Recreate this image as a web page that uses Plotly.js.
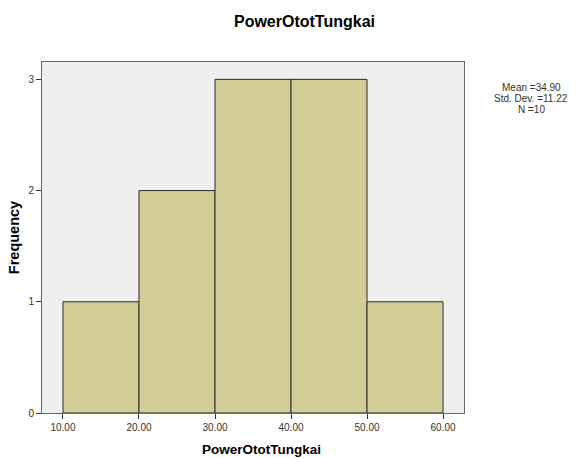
<!DOCTYPE html>
<html>
<head>
<meta charset="utf-8">
<script src="https://cdn.plot.ly/plotly-3.0.1.min.js"></script>
<style>html,body{margin:0;padding:0;background:#fff;}#chart{width:580px;height:458px;}</style>
</head>
<body>
<div id="chart"></div>
<script>
const binStarts = [10, 20, 30, 40, 50];
const binWidth = 10;
const counts = [1, 2, 3, 3, 1];
const xTicks = [10, 20, 30, 40, 50, 60];
const xTickLabels = ["10.00", "20.00", "30.00", "40.00", "50.00", "60.00"];
const yTicks = [0, 1, 2, 3];
const chartTitle = "PowerOtotTungkai";
const xTitle = "PowerOtotTungkai";
const yTitle = "Frequency";
const statsLines = ["Mean =34.90", "Std. Dev. =11.22", "N =10"];

const F = "Liberation Sans, Arial, sans-serif";
const trace = {
  type: "bar",
  x: binStarts.map(s => s + binWidth / 2),
  y: counts,
  width: binStarts.map(() => binWidth),
  marker: {color: "#d3ce97", line: {color: "#2a2a2a", width: 1}},
  hoverinfo: "skip"
};
const annotations = statsLines.map((t, i) => ({
  text: t, xref: "paper", yref: "paper", x: 1.159, y: 0.926 - i * 0.03,
  xanchor: "center", yanchor: "middle", showarrow: false,
  font: {family: F, size: 10, color: "#333"}
}));
annotations.push({
  text: "<b>" + xTitle + "</b>", xref: "paper", yref: "paper", x: 0.519, y: -0.105,
  xanchor: "center", yanchor: "middle", showarrow: false,
  font: {family: F, size: 13.5, color: "#000"}
});
const layout = {
  width: 580, height: 458,
  margin: {l: 42, r: 116, t: 62, b: 45},
  paper_bgcolor: "#ffffff",
  plot_bgcolor: "#efefef",
  showlegend: false,
  title: {text: "<b>" + chartTitle + "</b>", x: 0.525, xanchor: "center", y: 0.954, yanchor: "middle",
          font: {family: F, size: 16, color: "#000"}},
  xaxis: {range: [7.24, 62.76], tickvals: xTicks, ticktext: xTickLabels,
          ticks: "outside", ticklen: 5, tickcolor: "#333", showgrid: false, zeroline: false,
          showline: true, linecolor: "#666", linewidth: 1, mirror: true,
          tickfont: {family: F, size: 10, color: "#333"}},
  yaxis: {range: [0, 3.156], tickvals: yTicks, ticks: "outside", ticklen: 5, tickcolor: "#333",
          showgrid: false, zeroline: false, showline: true, linecolor: "#666", linewidth: 1, mirror: true,
          tickfont: {family: F, size: 10, color: "#333"},
          title: {text: "<b>" + yTitle + "</b>", standoff: 5, font: {family: F, size: 14.5, color: "#000"}}},
  annotations: annotations,
  bargap: 0
};
Plotly.newPlot("chart", [trace], layout, {displayModeBar: false, staticPlot: true});
</script>
</body>
</html>
